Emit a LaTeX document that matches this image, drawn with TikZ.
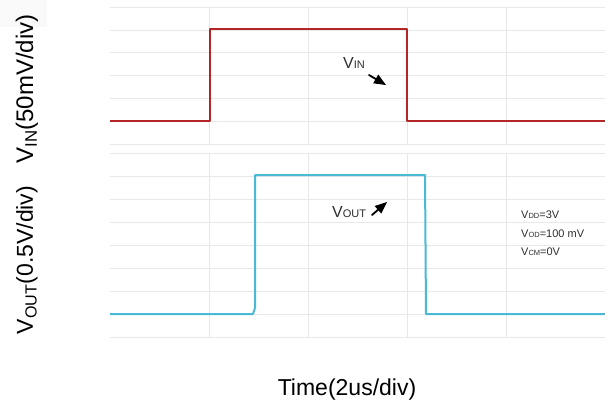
\documentclass[tikz,border=0pt]{standalone}
\usepackage{fontspec}
\setmainfont{Liberation Sans}
\usetikzlibrary{arrows}
\definecolor{vinred}{RGB}{178,38,38}
\definecolor{voutcyan}{RGB}{72,186,214}
\definecolor{gridgray}{RGB}{232,232,232}
\definecolor{txtgray}{RGB}{45,45,45}
\newcommand{\bigfont}{\fontsize{23}{27}\selectfont}
\newcommand{\midfont}{\fontsize{16}{18}\selectfont}
\newcommand{\smlfont}{\fontsize{11}{12}\selectfont}
\newcommand{\tinyfont}{\fontsize{7.5}{8}\selectfont}
\begin{document}
\begin{tikzpicture}[line cap=round,line join=round,>=triangle 45,x=1pt,y=-1pt]
\useasboundingbox (0,0) rectangle (605,405);
\fill [gray!5] (0,0) rectangle (47,27);
% grid, top panel
\foreach \k in {0,...,6}
  \draw [gridgray] (110,7+22.83*\k) -- (605,7+22.83*\k);
\foreach \x in {209,308,407,506}
  \draw [gridgray] (\x,7) -- (\x,144);
% grid, bottom panel
\foreach \k in {0,...,8}
  \draw [gridgray] (110,153+23*\k) -- (605,153+23*\k);
\foreach \x in {209,308,407,506}
  \draw [gridgray] (\x,153) -- (\x,337);
% waveforms
\draw [vinred,line width=2pt,line cap=butt] (110,121)--(210,121)--(210,29)--(407,29)--(407,121)--(605,121);
\draw [voutcyan,line width=2pt,line cap=butt] (110,314)--(253,314)--(255,308)--(255,175)--(425,175)--(426,314)--(605,314);
% labels in the plot
\node [anchor=base west,inner sep=0,txtgray] (vin) at (343,68) {\midfont V{\smlfont IN}};
\coordinate (vinA) at (369,75);
\coordinate (vinB) at (386,85);
\draw [->,line width=1.8pt] (vinA) -- (vinB);
\node [anchor=base west,inner sep=0,txtgray] (vout) at (332,217) {\midfont V{\smlfont OUT}};
\coordinate (voutA) at (372,215);
\coordinate (voutB) at (387,202);
\draw [->,line width=1.8pt] (voutA) -- (voutB);
\node [anchor=base west,inner sep=0,txtgray] (vdd) at (521,218) {\smlfont V{\tinyfont DD}=3V};
\node [anchor=base west,inner sep=0,txtgray] (vod) at (521,237) {\smlfont V{\tinyfont OD}=100 mV};
\node [anchor=base west,inner sep=0,txtgray] (vcm) at (521,255) {\smlfont V{\tinyfont CM}=0V};
% axis labels
\node [rotate=90,inner sep=0] (ylabin) at (27,89) {\fontsize{24}{28}\selectfont V\textsubscript{IN}(50mV/div)};
\node [rotate=90,inner sep=0] (ylabout) at (27,260) {\bigfont V\textsubscript{OUT}(0.5V/div)};
\node [anchor=base,inner sep=0] (xlab) at (347,395) {\bigfont Time(2us/div)};
\end{tikzpicture}
\end{document}
